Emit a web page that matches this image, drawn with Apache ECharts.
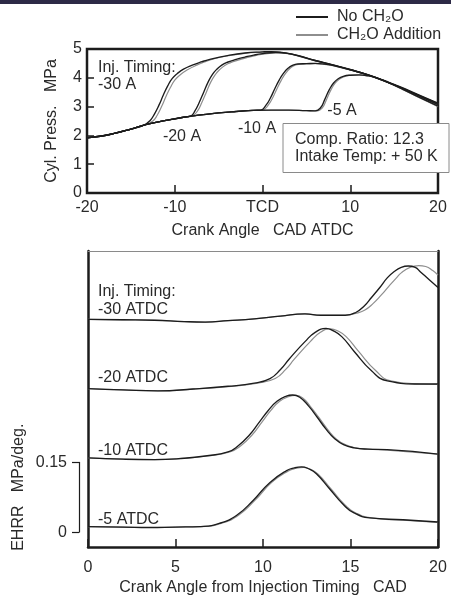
<!DOCTYPE html>
<html><head><meta charset="utf-8">
<script src="https://cdn.jsdelivr.net/npm/echarts/dist/echarts.min.js"></script>
<style>html,body{margin:0;padding:0;background:#fff}#c{width:451px;height:601px}</style>
</head><body><div id="c"></div><script>
// ---- Top panel: cylinder pressure (MPa) vs crank angle (CAD ATDC) ----
const topXTicks = [-20, -10, 0, 10, 20];
const topP30No = [[-20,1.92],[-18.5,1.97],[-17,2.06],[-15,2.22],[-13.5,2.36],[-12.8,2.52],[-12.3,2.75],[-11.8,3.05],[-11.3,3.4],[-10.8,3.72],[-10.3,3.97],[-9.7,4.15],[-9,4.3],[-8,4.44],[-7,4.55],[-6,4.64],[-4,4.77],[-2,4.86],[0,4.9],[1,4.91],[2,4.89],[4,4.78],[6,4.6],[8,4.45],[10,4.29],[12,4.11],[14,3.89],[16,3.65],[18,3.38],[20,3.12]];
const topP30Add = [[-20,1.92],[-18.5,1.97],[-17,2.06],[-15,2.22],[-13.3,2.38],[-12.5,2.5],[-12,2.7],[-11.5,3.0],[-11,3.35],[-10.5,3.66],[-10,3.92],[-9.4,4.1],[-8.6,4.27],[-7.5,4.44],[-6.5,4.56],[-5.5,4.66],[-4,4.76],[-2,4.85],[0,4.89],[1,4.9],[2,4.88],[4,4.77],[6,4.6],[8,4.44],[10,4.28],[12,4.1],[14,3.88],[16,3.63],[18,3.36],[20,3.1]];
const topP20No = [[-20,1.92],[-18.5,1.97],[-17,2.06],[-15,2.22],[-13.2,2.38],[-11,2.52],[-9,2.63],[-8.2,2.67],[-7.7,2.85],[-7.2,3.15],[-6.7,3.5],[-6.2,3.85],[-5.7,4.12],[-5.2,4.3],[-4.6,4.45],[-4,4.54],[-3,4.64],[-2,4.72],[-1,4.79],[0,4.84],[1.5,4.88],[3,4.84],[4,4.77],[6,4.6],[8,4.45],[10,4.28],[12,4.1],[14,3.88],[16,3.63],[18,3.36],[20,3.1]];
const topP20Add = [[-20,1.92],[-18.5,1.97],[-17,2.06],[-15,2.22],[-13.2,2.38],[-11,2.52],[-9,2.63],[-8,2.68],[-7.4,2.85],[-6.9,3.15],[-6.4,3.5],[-5.9,3.85],[-5.4,4.1],[-4.9,4.28],[-4.3,4.43],[-3.7,4.52],[-2.7,4.62],[-1.7,4.71],[-0.7,4.78],[0.3,4.83],[1.8,4.87],[3,4.83],[4,4.76],[6,4.59],[8,4.44],[10,4.27],[12,4.09],[14,3.87],[16,3.61],[18,3.34],[20,3.08]];
const topP10No = [[-20,1.92],[-18.5,1.97],[-17,2.06],[-15,2.22],[-13.2,2.38],[-11,2.52],[-9,2.63],[-7,2.71],[-5,2.78],[-3,2.83],[-1,2.87],[-0.2,2.88],[0.4,3.05],[0.9,3.3],[1.4,3.62],[1.9,3.92],[2.4,4.16],[2.9,4.33],[3.4,4.43],[4,4.48],[5,4.49],[6,4.5],[7,4.48],[8,4.43],[10,4.28],[12,4.1],[14,3.88],[16,3.62],[18,3.35],[20,3.07]];
const topP10Add = [[-20,1.92],[-18.5,1.97],[-17,2.06],[-15,2.22],[-13.2,2.38],[-11,2.52],[-9,2.63],[-7,2.71],[-5,2.78],[-3,2.83],[-1,2.87],[0,2.88],[0.65,3.05],[1.15,3.3],[1.65,3.62],[2.15,3.92],[2.65,4.16],[3.15,4.33],[3.65,4.43],[4.25,4.47],[5,4.48],[6,4.49],[7,4.47],[8,4.42],[10,4.27],[12,4.09],[14,3.87],[16,3.61],[18,3.33],[20,3.05]];
const topP5No = [[-20,1.92],[-18.5,1.97],[-17,2.06],[-15,2.22],[-13.2,2.38],[-11,2.52],[-9,2.63],[-7,2.71],[-5,2.78],[-3,2.83],[-1,2.87],[1,2.88],[3,2.88],[5,2.86],[6,2.85],[6.6,2.95],[7.1,3.25],[7.6,3.58],[8.1,3.82],[8.6,3.96],[9.2,4.05],[10,4.09],[11,4.1],[12,4.07],[13,4.0],[14,3.88],[16,3.6],[18,3.3],[20,3.02]];
const topP5Add = [[-20,1.92],[-18.5,1.97],[-17,2.06],[-15,2.22],[-13.2,2.38],[-11,2.52],[-9,2.63],[-7,2.71],[-5,2.78],[-3,2.83],[-1,2.87],[1,2.88],[3,2.88],[5,2.86],[6.2,2.85],[6.8,2.95],[7.3,3.25],[7.8,3.58],[8.3,3.82],[8.8,3.96],[9.4,4.05],[10.2,4.09],[11.2,4.09],[12.2,4.06],[13,3.99],[14,3.87],[16,3.59],[18,3.29],[20,3.0]];

// ---- Bottom panel: EHRR (MPa/deg) vs crank angle from injection timing ----
const botOffsets = [0.45, 0.30, 0.15, 0.0];   // -30, -20, -10, -5 ATDC traces
const ehrr30No = [[0,0.005],[2,0.004],[3.8,0.003],[5.5,0.0],[6.7,-0.001],[8,0.002],[9.5,0.006],[11,0.012],[12.4,0.017],[13.3,0.014],[14.7,0.014],[15.3,0.02],[15.8,0.035],[16.2,0.053],[16.7,0.076],[17.1,0.096],[17.5,0.11],[17.9,0.119],[18.3,0.122],[18.7,0.119],[19.0,0.109],[19.5,0.092],[20,0.075]];
const ehrr30Add = [[0,0.005],[2,0.004],[3.8,0.003],[5.5,0.0],[6.7,-0.001],[8,0.002],[9.5,0.006],[11,0.012],[12.4,0.017],[13.3,0.014],[14.7,0.014],[15.3,0.018],[15.8,0.025],[16.3,0.04],[16.75,0.058],[17.2,0.078],[17.6,0.095],[17.9,0.107],[18.4,0.119],[18.9,0.123],[19.3,0.121],[19.7,0.112],[20,0.102]];
const ehrr20No = [[0,0.003],[2,0],[4,-0.002],[6,0.002],[8,0.008],[9.5,0.015],[10.4,0.025],[11.0,0.045],[11.5,0.068],[12.4,0.106],[13.0,0.127],[13.6,0.135],[14.0,0.13],[14.5,0.117],[15.2,0.085],[16.2,0.042],[17.1,0.02],[19,0.013],[20,0.013]];
const ehrr20Add = [[0,0.003],[2,0],[4,-0.002],[6,0.002],[8,0.007],[9.7,0.015],[10.7,0.025],[11.3,0.045],[11.8,0.068],[12.7,0.106],[13.3,0.127],[13.85,0.134],[14.25,0.13],[14.75,0.117],[15.45,0.085],[16.45,0.042],[17.3,0.02],[19,0.013],[20,0.012]];
const ehrr10No = [[0,0.001],[2,-0.002],[3.8,-0.003],[5.5,0],[6.7,0.005],[8,0.014],[8.6,0.028],[9.2,0.05],[9.8,0.08],[10.3,0.105],[10.8,0.125],[11.3,0.136],[11.7,0.139],[12.1,0.134],[12.6,0.115],[13.1,0.09],[13.6,0.064],[14.1,0.043],[14.6,0.03],[15.2,0.023],[16,0.02],[17.1,0.019],[20,0.009]];
const ehrr10Add = [[0,0.001],[2,-0.002],[3.8,-0.003],[5.5,0],[6.8,0.005],[8.1,0.014],[8.75,0.028],[9.35,0.05],[9.95,0.08],[10.45,0.105],[10.95,0.125],[11.45,0.135],[11.85,0.138],[12.25,0.133],[12.7,0.114],[13.2,0.089],[13.7,0.063],[14.2,0.042],[14.7,0.03],[15.3,0.023],[16,0.02],[17.1,0.018],[20,0.009]];
const ehrr5No = [[0,0],[2,-0.001],[3.5,-0.002],[5,-0.001],[6.4,0],[7.5,0.007],[8.5,0.025],[9.45,0.058],[10.4,0.097],[11.35,0.123],[11.8,0.129],[12.2,0.131],[12.6,0.127],[13.05,0.116],[13.8,0.083],[14.6,0.048],[15.2,0.03],[16.1,0.019],[18,0.015],[20,0.01]];
const ehrr5Add = [[0,0],[2,-0.001],[3.5,-0.002],[5,-0.001],[6.5,0],[7.6,0.007],[8.6,0.025],[9.55,0.058],[10.5,0.097],[11.45,0.122],[11.9,0.128],[12.3,0.13],[12.7,0.126],[13.15,0.115],[13.9,0.082],[14.7,0.047],[15.3,0.03],[16.2,0.019],[18,0.014],[20,0.009]];
const scaleBarTicks = [0, 0.15];

const NAME_NO = 'No CH\u2082O', NAME_ADD = 'CH\u2082O Addition';
const BLACK = '#1c1c1c', GRAY = '#8e8e8e', TXT = '#2a2a2a';
const FF = '"Liberation Sans", Arial, sans-serif';
const FS = 16;
const font = FS + 'px ' + FF;

function lineSeries(name, data, gi, black) {
  return { type: 'line', name, data, xAxisIndex: gi === 0 ? 0 : 1, yAxisIndex: gi === 0 ? 0 : 1,
    symbol: 'none', smooth: 0.5, silent: true, animation: false,
    color: black ? BLACK : GRAY, z: black ? 4 : 3,
    lineStyle: { color: black ? BLACK : GRAY, width: black ? 1.35 : 1.2 } };
}
function shift(arr, off) { return arr.map(p => [p[0], p[1] + off]); }

const series = [];
[[topP30No, topP30Add],[topP20No, topP20Add],[topP10No, topP10Add],[topP5No, topP5Add]].forEach(([a,b]) => {
  series.push(lineSeries(NAME_ADD, b, 0, false));
  series.push(lineSeries(NAME_NO, a, 0, true));
});
[[ehrr30No, ehrr30Add],[ehrr20No, ehrr20Add],[ehrr10No, ehrr10Add],[ehrr5No, ehrr5Add]].forEach(([a,b], i) => {
  series.push(lineSeries(NAME_ADD, shift(b, botOffsets[i]), 1, false));
  series.push(lineSeries(NAME_NO, shift(a, botOffsets[i]), 1, true));
});

const axLab = { fontSize: FS, color: TXT, fontFamily: FF };
const thick = { show: true, onZero: false, lineStyle: { color: BLACK, width: 2.5 } };

function txt(text, x, y, align) {
  return { type: 'text', x, y, z: 100,
    style: { text, font, fill: TXT, textAlign: align || 'left', align: align || 'left',
      textVerticalAlign: 'middle', verticalAlign: 'middle' } };
}

const option = {
  animation: false,
  backgroundColor: '#fff',
  legend: {
    data: [NAME_NO, NAME_ADD], orient: 'vertical', left: 291, top: 4,
    itemWidth: 32, itemHeight: 2, itemGap: 2, icon: 'rect',
    textStyle: { fontSize: FS, color: TXT, fontFamily: FF, padding: [0, 0, 0, 4] },
    selectedMode: false
  },
  grid: [
    { left: 87, top: 49, width: 351, height: 144, show: true, borderColor: BLACK, borderWidth: 2.5, backgroundColor: 'transparent' },
    { left: 88, top: 251, width: 350, height: 302 },
    { left: 79, top: 462.4, width: 1, height: 69.7 }
  ],
  xAxis: [
    { gridIndex: 0, type: 'value', min: topXTicks[0], max: topXTicks[4], interval: 10,
      axisLine: { show: false, onZero: false }, splitLine: { show: false },
      axisTick: { inside: true, length: 8, lineStyle: { color: BLACK, width: 1.5 } },
      axisLabel: Object.assign({ margin: 7, formatter: v => v === 0 ? 'TCD' : String(v) }, axLab),
      name: 'Crank Angle   CAD ATDC', nameLocation: 'middle', nameGap: 30, nameTextStyle: axLab },
    { gridIndex: 1, type: 'value', min: 0, max: 20, interval: 5,
      axisLine: thick, splitLine: { show: false },
      axisTick: { inside: true, length: 8, lineStyle: { color: BLACK, width: 1.5 } },
      axisLabel: Object.assign({ margin: 12 }, axLab),
      name: 'Crank Angle from Injection Timing   CAD', nameLocation: 'middle', nameGap: 32, nameTextStyle: axLab },
    { gridIndex: 1, type: 'value', position: 'top', min: 0, max: 20,
      axisLine: { show: true, onZero: false, lineStyle: { color: '#8a8a8a', width: 1 } },
      axisTick: { show: false }, axisLabel: { show: false }, splitLine: { show: false } },
    { gridIndex: 2, type: 'value', min: 0, max: 1, show: false }
  ],
  yAxis: [
    { gridIndex: 0, type: 'value', min: 0, max: 5, interval: 1,
      axisLine: { show: false, onZero: false }, splitLine: { show: false },
      axisTick: { inside: true, length: 7, lineStyle: { color: BLACK, width: 1.5 } },
      axisLabel: Object.assign({ margin: 5 }, axLab),
      name: 'Cyl. Press.   MPa', nameLocation: 'middle', nameGap: 27, nameTextStyle: axLab },
    { gridIndex: 1, type: 'value', min: -0.045, max: 0.605,
      axisLine: thick, axisTick: { show: false }, axisLabel: { show: false }, splitLine: { show: false } },
    { gridIndex: 1, type: 'value', position: 'right', min: -0.045, max: 0.605,
      axisLine: thick, axisTick: { show: false }, axisLabel: { show: false }, splitLine: { show: false } },
    { gridIndex: 2, type: 'value', min: scaleBarTicks[0], max: scaleBarTicks[1], interval: scaleBarTicks[1],
      axisLine: { show: true, onZero: false, lineStyle: { color: BLACK, width: 1.2 } },
      axisTick: { show: true, length: 7, lineStyle: { color: BLACK, width: 1.2 } },
      axisLabel: Object.assign({ margin: 12, formatter: v => String(v) }, axLab),
      splitLine: { show: false },
      name: 'EHRR   MPa/deg.', nameLocation: 'middle', nameGap: 52,
      nameTextStyle: Object.assign({ padding: [0, 0, 0, 20] }, axLab) }
  ],
  graphic: [
    { type: 'rect', shape: { x: 0, y: 0, width: 451, height: 4 }, style: { fill: '#2d2a46' }, z: 100 },
    txt('Inj. Timing:', 98, 68), txt('-30 A', 98, 85),
    txt('-20 A', 182, 137, 'center'), txt('-10 A', 257, 129, 'center'), txt('-5 A', 342, 111, 'center'),
    { type: 'rect', z: 99, shape: { x: 283, y: 123.5, width: 166, height: 49 },
      style: { fill: '#fff', stroke: '#8a8a8a', lineWidth: 1 } },
    txt('Comp. Ratio: 12.3', 295, 139.5), txt('Intake Temp: + 50 K', 295, 157),
    txt('Inj. Timing:', 98, 292), txt('-30 ATDC', 98, 309.5),
    txt('-20 ATDC', 98, 378), txt('-10 ATDC', 98, 451), txt('-5 ATDC', 98, 519.5)
  ],
  series
};
const chart = echarts.init(document.getElementById('c'), null, { renderer: 'canvas' });
chart.setOption(option);
</script></body></html>
